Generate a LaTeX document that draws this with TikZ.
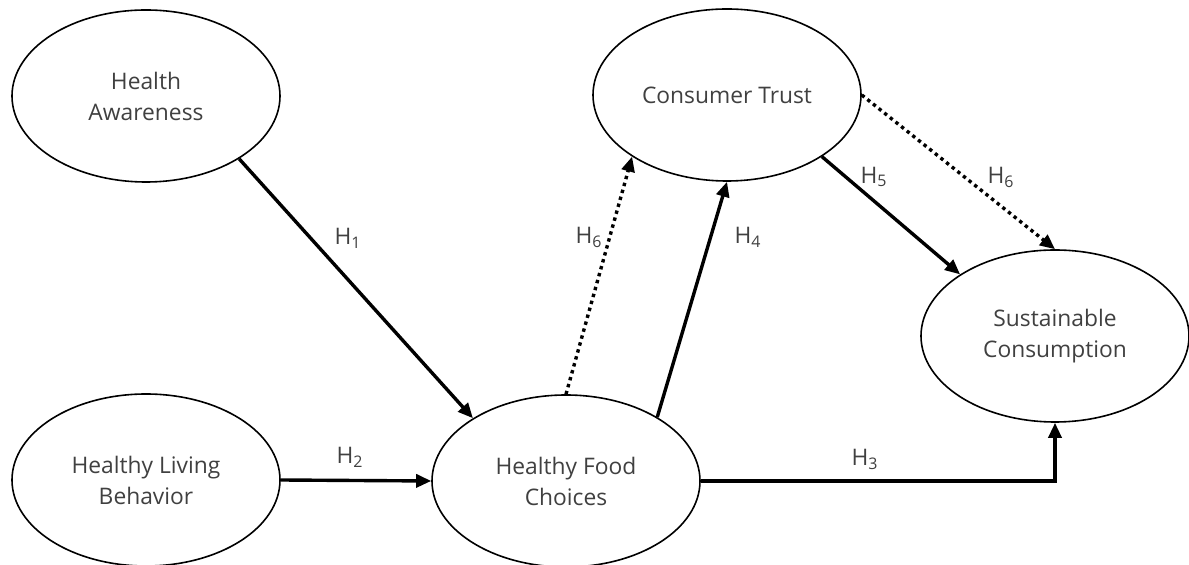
\documentclass[tikz,border=0pt]{standalone}
\usepackage{fontspec}
\setmainfont{Open Sans}
\usetikzlibrary{shapes.geometric,arrows.meta}
\begin{document}
\begin{tikzpicture}[x=0.5pt,y=-0.5pt,
  construct/.style={ellipse,draw,line width=0.8pt,minimum width=134pt,minimum height=86pt,
    inner sep=0pt,align=center,font=\fontsize{11.4}{15.5}\selectfont,text=black!75},
  path/.style={line width=1.7pt,-{Triangle[length=7.5pt,width=6.5pt]}},
  mediated/.style={path,dash pattern=on 1.7pt off 1.9pt},
  hyp/.style={font=\fontsize{11.4}{13}\selectfont,text=black!75,inner sep=0pt}]
  \useasboundingbox (0,0) rectangle (1189,565);

  % constructs
  \node[construct] (ha)  at (146,96)   {Health\\Awareness};
  \node[construct] (hlb) at (146,480)  {Healthy Living\\Behavior};
  \node[construct] (hfc) at (566,481)  {Healthy Food\\Choices};
  \node[construct] (ct)  at (727,95)   {Consumer Trust};
  \node[construct] (sc)  at (1055,336) {Sustainable\\Consumption};

  % direct paths
  \draw[path] (ha.-34) -- (hfc.146);
  \draw[path] (hlb.east) -- (hfc.west);
  \draw[path] (hfc.35) -- (ct.south);
  \draw[path] (ct.-33) -- (sc.147);
  \draw[path] (hfc.east) -| (sc.south);

  % mediated paths
  \draw[mediated] (hfc.north) -- (ct.-147);
  \draw[mediated] (ct.east) -- (sc.north);

  % hypothesis labels
  \node[hyp] (h1)  at (348,238)  {H\textsubscript{1}};
  \node[hyp] (h2)  at (350,457)  {H\textsubscript{2}};
  \node[hyp] (h3)  at (865,459)  {H\textsubscript{3}};
  \node[hyp] (h4)  at (748,237)  {H\textsubscript{4}};
  \node[hyp] (h5)  at (874,177)  {H\textsubscript{5}};
  \node[hyp] (h6a) at (589,237)  {H\textsubscript{6}};
  \node[hyp] (h6b) at (1001,177) {H\textsubscript{6}};
\end{tikzpicture}
\end{document}
